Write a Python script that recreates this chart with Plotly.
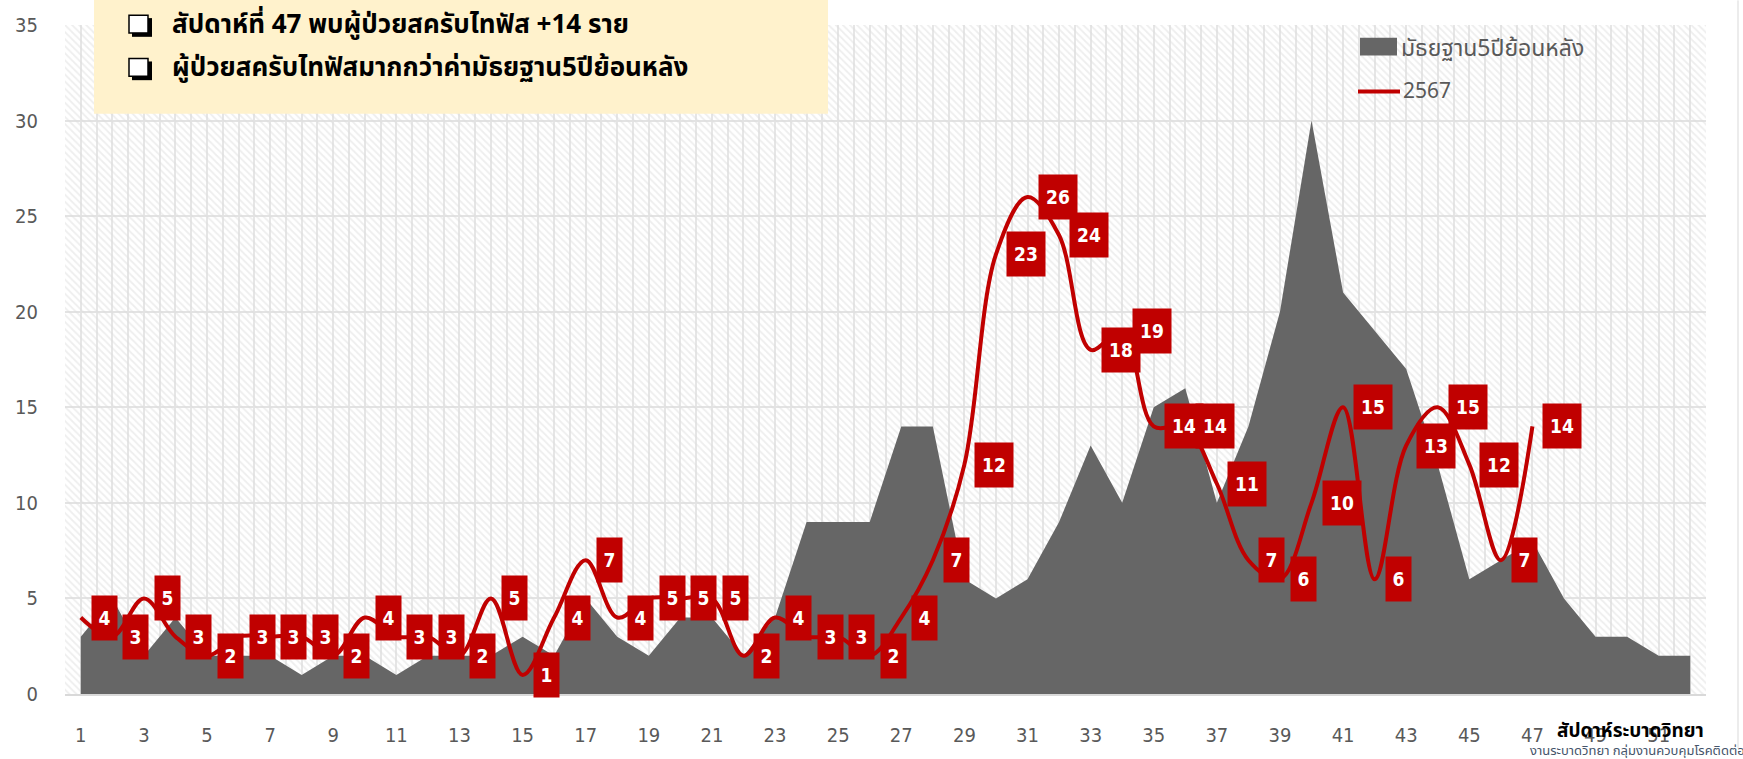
import plotly.graph_objects as go

# ---- data -------------------------------------------------------------
weeks = list(range(1, 53))
median_5y = [3, 5, 2, 4, 2, 2, 2, 1, 2, 2, 1, 2, 2, 2, 3, 2, 5, 3, 2, 4,
             4, 2, 4, 9, 9, 9, 14, 14, 6, 5, 6, 9, 13, 10, 15, 16, 10, 14, 20, 30,
             21, 19, 17, 12, 6, 7, 8, 5, 3, 3, 2, 2]
cases_weeks = list(range(1, 48))
cases_2567 = [4, 3, 5, 3, 2, 3, 3, 3, 2, 4, 3, 3, 2, 5, 1, 4, 7, 4, 5, 5,
              5, 2, 4, 3, 3, 2, 4, 7, 12, 23, 26, 24, 18, 19, 14, 14, 11, 7, 6, 10,
              15, 6, 13, 15, 12, 7, 14]
x_tick_vals = list(range(1, 52, 2))
y_tick_vals = [0, 5, 10, 15, 20, 25, 30, 35]

legend_median = "มัธยฐาน5ปีย้อนหลัง"
legend_year = "2567"
note_lines = ["สัปดาห์ที่ 47 พบผู้ป่วยสครับไทฟัส +14 ราย",
              "ผู้ป่วยสครับไทฟัสมากกว่าค่ามัธยฐาน5ปีย้อนหลัง"]
x_title = "สัปดาห์ระบาดวิทยา"
source_text = "งานระบาดวิทยา กลุ่มงานควบคุมโรคติดต่อ"

# ---- geometry ---------------------------------------------------------
W, H = 1743, 759
ML, MR, MT, MB = 65, 37, 25, 55
PW, PH = W - ML - MR, H - MT - MB


def px(x):
    return (x - ML) / PW


def py(y):
    return (H - MB - y) / PH


RED = "#C00000"
GREY_AREA = "#666666"
TXT = "#595959"
THAI = "Tahoma, Leelawadee UI, Noto Sans Thai, Noto Sans, sans-serif"
NUM = "Liberation Sans Narrow, DejaVu Sans Condensed, Arial Narrow, sans-serif"

fig = go.Figure()

# hatched plot background
fig.add_trace(go.Bar(
    x=[26.5], y=[35], width=[52],
    marker=dict(color="rgba(0,0,0,0)", line=dict(width=0),
                pattern=dict(shape="\\", fgcolor="#dedede", bgcolor="rgba(0,0,0,0)",
                             size=5, solidity=0.35, fillmode="overlay")),
    hoverinfo="skip", showlegend=False))

# 5-year median as a filled area
fig.add_trace(go.Scatter(
    x=weeks, y=median_5y, mode="lines", fill="tozeroy",
    fillcolor=GREY_AREA, line=dict(width=0, color=GREY_AREA),
    name=legend_median, showlegend=False))

# current year cases, smoothed line
fig.add_trace(go.Scatter(
    x=cases_weeks, y=cases_2567, mode="lines",
    line=dict(color=RED, width=4, shape="spline", smoothing=1.0),
    name=legend_year, showlegend=False))

annotations = []
shapes = []

# value labels
for wk, v in zip(cases_weeks, cases_2567):
    annotations.append(dict(
        x=wk, y=v, xref="x", yref="y", text=f"<b>{v}</b>", showarrow=False,
        xanchor="left", yanchor="middle", xshift=10,
        width=25 if v < 10 else 38, height=44, borderpad=0,
        bgcolor=RED, font=dict(color="white", size=19,
                               family="DejaVu Sans Condensed, DejaVu Sans")))

# note box
shapes.append(dict(type="rect", xref="paper", yref="paper", layer="above",
                   x0=px(94), x1=px(828), y0=py(115), y1=py(-5),
                   fillcolor="#FFF2CC", line=dict(width=0)))
for i, line in enumerate(note_lines):
    yc = 25 + i * 44
    # shadowed check box
    shapes.append(dict(type="rect", xref="paper", yref="paper", layer="above",
                       x0=px(132), x1=px(152), y0=py(yc + 12), y1=py(yc - 7),
                       fillcolor="black", line=dict(width=0)))
    shapes.append(dict(type="rect", xref="paper", yref="paper", layer="above",
                       x0=px(129), x1=px(148), y0=py(yc + 8), y1=py(yc - 10),
                       fillcolor="white", line=dict(color="black", width=1.5)))
    annotations.append(dict(x=px(170), y=py(yc), xref="paper", yref="paper",
                            text=f"<b>{line}</b>", showarrow=False, xanchor="left", yanchor="middle",
                            font=dict(size=26, color="black", family=THAI)))

# legend
shapes.append(dict(type="rect", xref="paper", yref="paper", layer="above",
                   x0=px(1360), x1=px(1397), y0=py(56), y1=py(38),
                   fillcolor=GREY_AREA, line=dict(width=0)))
shapes.append(dict(type="line", xref="paper", yref="paper", layer="above",
                   x0=px(1358), x1=px(1400), y0=py(92.5), y1=py(92.5),
                   line=dict(color=RED, width=4)))
annotations.append(dict(x=px(1399), y=py(49), xref="paper", yref="paper",
                        text=legend_median, showarrow=False, xanchor="left", yanchor="middle",
                        font=dict(size=23, color=TXT, family=THAI)))
annotations.append(dict(x=px(1401), y=py(93), xref="paper", yref="paper",
                        text=legend_year, showarrow=False, xanchor="left", yanchor="middle",
                        font=dict(size=21, color=TXT, family=THAI)))

# axis title and source
annotations.append(dict(x=px(1630), y=py(742), xref="paper", yref="paper",
                        text=f"<b>{x_title}</b>", showarrow=False, xanchor="center", yanchor="middle",
                        font=dict(size=19, color="black", family=THAI)))
annotations.append(dict(x=px(1528), y=py(762), xref="paper", yref="paper",
                        text=source_text, showarrow=False, xanchor="left", yanchor="middle",
                        font=dict(size=13, color="#44546A", family=THAI)))

# outer chart border on the right
shapes.append(dict(type="line", xref="paper", yref="paper", layer="above",
                   x0=px(1738), x1=px(1738), y0=py(0), y1=py(H),
                   line=dict(color="#D9D9D9", width=1)))

fig.update_layout(
    width=W, height=H, autosize=False,
    margin=dict(l=ML, r=MR, t=MT, b=MB),
    paper_bgcolor="white", plot_bgcolor="white",
    showlegend=False, bargap=0,
    annotations=annotations, shapes=shapes,
    xaxis=dict(range=[0.5, 52.5], tickvals=x_tick_vals, ticktext=[str(v) for v in x_tick_vals],
               showgrid=False, zeroline=False, ticks="",
               showline=True, linecolor="#D9D9D9", linewidth=2,
               ticklabelstandoff=22,
               tickfont=dict(size=20, color=TXT, family=NUM),
               minor=dict(tick0=0.5, dtick=0.5, showgrid=True, gridcolor="#E6E6E6", gridwidth=1.5)),
    yaxis=dict(range=[0, 35], tickvals=y_tick_vals, showgrid=True, gridcolor="#E3E3E3", gridwidth=2,
               zeroline=False, ticks="", ticklabelstandoff=26,
               tickfont=dict(size=20, color=TXT, family=NUM)),
)

fig.write_html("out.html")
